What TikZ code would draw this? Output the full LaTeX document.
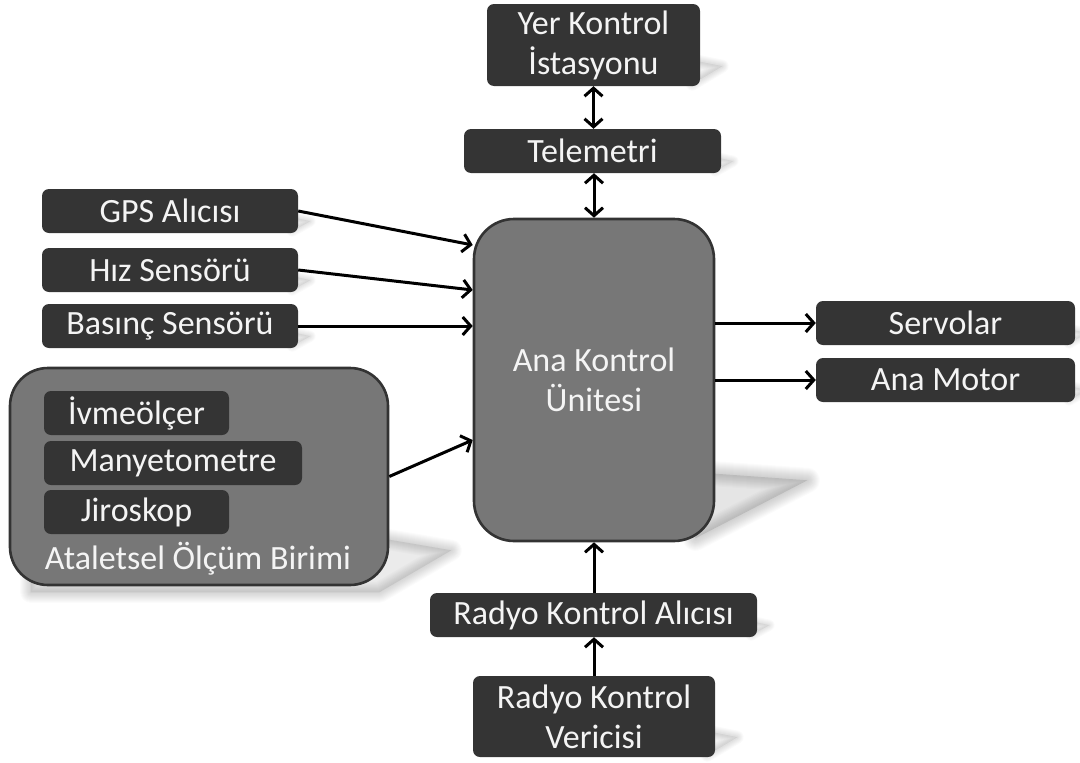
\documentclass[tikz,border=0pt]{standalone}
\usepackage{fontspec}
\setmainfont{Carlito}
\usetikzlibrary{arrows.meta,calc,backgrounds}

\definecolor{boxdark}{HTML}{343434}
\definecolor{boxgray}{HTML}{777777}
\definecolor{edgedark}{HTML}{333333}
\definecolor{txt}{HTML}{F4F4F4}

\tikzset{
  darkbox/.style={rectangle, rounded corners=7pt, fill=boxdark, text=txt,
    inner sep=0pt, align=center, font=\fontsize{34}{40}\selectfont},
  graybox/.style={rectangle, rounded corners=38pt, fill=boxgray, draw=edgedark,
    line width=2.6pt, text=txt, inner sep=0pt, align=center,
    font=\fontsize{34}{40}\selectfont},
  link/.style={line width=3pt, -{Straight Barb[length=8pt,width=18pt]}},
  duplex/.style={line width=3pt, {Straight Barb[length=8pt,width=18pt]}-{Straight Barb[length=8pt,width=18pt]}},
  shadowfill/.style={black, line join=round},
}

% soft shadow: a polygon stroked many times with growing widths, so its edge fades out
\newcommand\softshade[4]{%
  \foreach \w in {1,3,...,#2}{\draw[shadowfill, opacity=#3, line width=\w pt] #1;}%
  \fill[shadowfill, opacity=#4] #1;}

\begin{document}
\begin{tikzpicture}[x=1pt, y=-1pt]
\useasboundingbox (0,0) rectangle (1080,763);

% ---- nodes ----
\node[darkbox, minimum width=213pt, minimum height=82pt] (yer) at (593.5,45) {Yer Kontrol\\İstasyonu};
\node[darkbox, minimum width=257pt, minimum height=44pt] (tel) at (592.5,151) {Telemetri};

\node[darkbox, minimum width=256pt, minimum height=44pt] (gps) at (170,211) {GPS Alıcısı};
\node[darkbox, minimum width=256pt, minimum height=44pt] (hiz) at (170,270) {Hız Sensörü};
\node[darkbox, minimum width=256pt, minimum height=44pt] (bas) at (170,326) {Basınç Sensörü};

\node[graybox, minimum width=378pt, minimum height=217pt] (imu) at (199,476.5) {};
\node[darkbox, minimum width=185pt, minimum height=44pt] (ivme) at (136.5,413) {İvmeölçer};
\node[darkbox, minimum width=258pt, minimum height=44pt] (many) at (173,463) {Manyetometre};
\node[darkbox, minimum width=185pt, minimum height=44pt] (jiro) at (136.5,512) {Jiroskop};
\node[text=txt, font=\fontsize{34}{40}\selectfont, inner sep=0pt] (imulbl) at (198,559) {Ataletsel Ölçüm Birimi};

\node[graybox, rounded corners=40pt, minimum width=240pt, minimum height=322pt] (ana) at (594,380) {Ana Kontrol\\Ünitesi};

\node[darkbox, minimum width=259pt, minimum height=44pt] (servo) at (945.5,323) {Servolar};
\node[darkbox, minimum width=259pt, minimum height=44pt] (motor) at (945.5,380) {Ana Motor};

\node[darkbox, minimum width=327pt, minimum height=44pt] (alici) at (593.5,615) {Radyo Kontrol Alıcısı};
\node[darkbox, minimum width=242pt, minimum height=81pt] (verici) at (594,716.5) {Radyo Kontrol\\Vericisi};

% ---- shadows ----
\begin{pgfonlayer}{background}
  \softshade{($(ana.south east)+(-20,-70)$) -- ($(ana.south east)+(92,-62)$) -- ($(ana.south east)+(-20,-4)$) -- cycle}{25}{0.014}{0.1}
  \softshade{($(imu.south east)+(-20,-50)$) -- ($(imu.south east)+(62,-36)$) -- ($(imu.south east)+(-10,6)$) -- ($(imu.south west)+(22,6)$) -- ($(imu.south west)+(22,-10)$) -- cycle}{21}{0.015}{0.08}
  \foreach \n in {yer,verici}{%
    \softshade{($(\n.south east)+(-8,-26)$) -- ($(\n.south east)+(22,-20)$) -- ($(\n.south east)+(-8,-2)$) -- cycle}{13}{0.02}{0.05}}
  \foreach \n in {tel,gps,hiz,bas,servo,motor,alici}{%
    \softshade{($(\n.south east)+(-6,-16)$) -- ($(\n.south east)+(12,-12)$) -- ($(\n.south east)+(-6,-2)$) -- cycle}{11}{0.02}{0.05}}
\end{pgfonlayer}

% ---- connectors ----
\draw[duplex] (yer.south) -- (yer.south |- tel.north);
\draw[duplex] (ana.north |- tel.south) -- (ana.north);

\draw[link] (gps.east) -- ([yshift=135pt]ana.west);
\draw[link] (hiz.east) -- ([yshift=90pt]ana.west);
\draw[link] (bas.east) -- (bas.east -| ana.west);
\draw[link] (imu.east) -- ([yshift=-60pt]ana.west);

\draw[link] (ana.east |- servo.west) -- (servo.west);
\draw[link] (ana.east |- motor.west) -- (motor.west);

\draw[link] (ana.south |- alici.north) -- (ana.south);
\draw[link] (verici.north) -- (verici.north |- alici.south);
\end{tikzpicture}
\end{document}
